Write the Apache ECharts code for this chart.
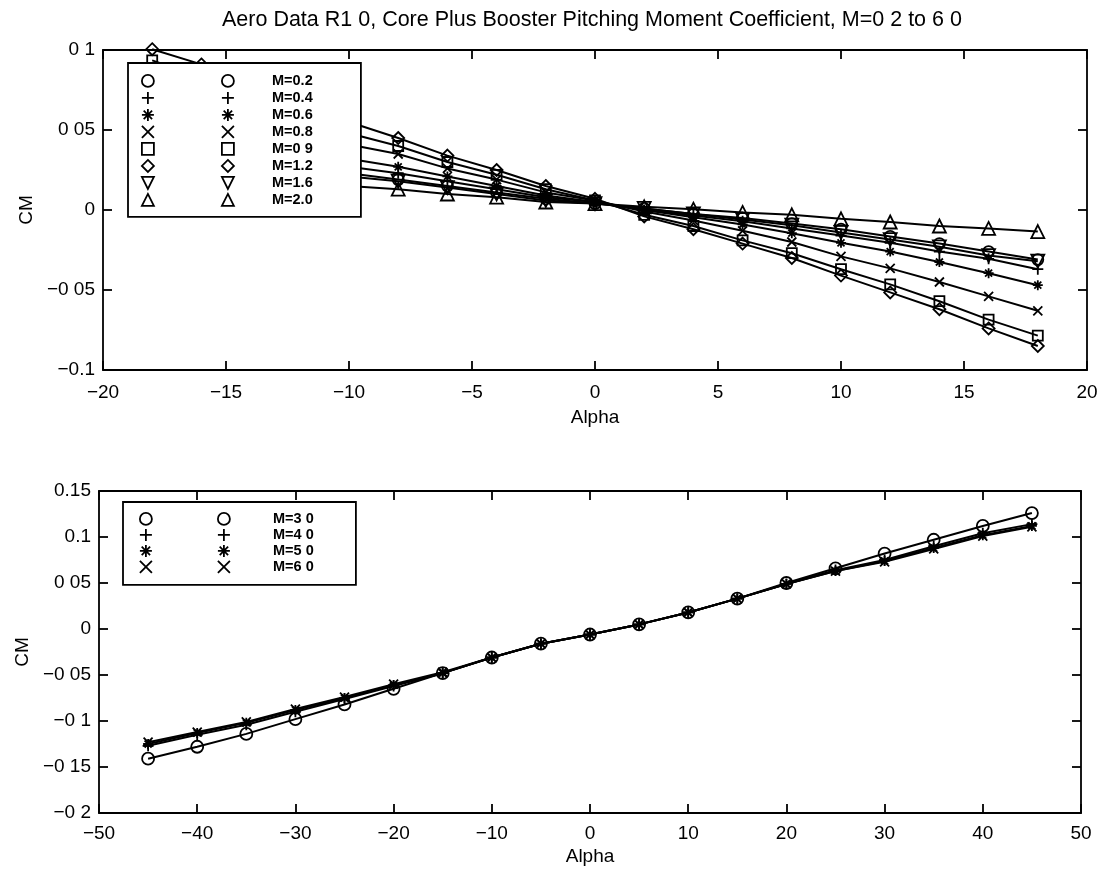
<!DOCTYPE html>
<html>
<head>
<meta charset="utf-8">
<script src="https://cdn.jsdelivr.net/npm/echarts@6/dist/echarts.min.js"></script>
<style>
    html, body { margin: 0; padding: 0; background: #fff; }
    #chart { width: 1108px; height: 871px; }
</style>
</head>
<body>
<div id="chart"></div>
<script>
    // upper panel: M=0.2 .. 2.0
    const alphaTop = [-18, -16, -14, -12, -10, -8, -6, -4, -2, 0, 2, 4, 6, 8, 10, 12, 14, 16, 18];
    const namesTop = ['M=0.2', 'M=0.4', 'M=0.6', 'M=0.8', 'M=0 9', 'M=1.2', 'M=1.6', 'M=2.0'];
    const cmM02 = [0.0445, 0.039, 0.033, 0.028, 0.023, 0.019, 0.015, 0.011, 0.007, 0.004, 0.001, -0.0025, -0.005, -0.0085, -0.012, -0.0165, -0.021, -0.026, -0.031];
    const cmM04 = [0.0525, 0.046, 0.039, 0.033, 0.027, 0.023, 0.018, 0.013, 0.008, 0.005, 0.000, -0.0035, -0.007, -0.0115, -0.016, -0.0205, -0.026, -0.0305, -0.037];
    const cmM06 = [0.0625, 0.055, 0.047, 0.040, 0.032, 0.027, 0.021, 0.015, 0.009, 0.005, 0.000, -0.0045, -0.009, -0.0145, -0.0205, -0.026, -0.0325, -0.0395, -0.047];
    const cmM08 = [0.0805, 0.071, 0.061, 0.051, 0.041, 0.035, 0.026, 0.019, 0.011, 0.006, -0.001, -0.0065, -0.013, -0.020, -0.029, -0.0365, -0.045, -0.054, -0.063];
    const cmM09 = [0.0935, 0.083, 0.071, 0.060, 0.048, 0.040, 0.030, 0.022, 0.013, 0.006, -0.003, -0.010, -0.019, -0.027, -0.037, -0.0465, -0.057, -0.0685, -0.0785];
    const cmM12 = [0.1005, 0.091, 0.079, 0.067, 0.055, 0.045, 0.034, 0.025, 0.015, 0.007, -0.004, -0.012, -0.021, -0.030, -0.041, -0.0515, -0.062, -0.074, -0.085];
    const cmM16 = [0.0405, 0.036, 0.030, 0.026, 0.021, 0.018, 0.014, 0.010, 0.006, 0.004, 0.001, -0.0025, -0.006, -0.0095, -0.014, -0.0185, -0.023, -0.0285, -0.032];
    const cmM20 = [0.0285, 0.025, 0.021, 0.018, 0.015, 0.013, 0.010, 0.008, 0.005, 0.004, 0.002, 0.0005, -0.0015, -0.003, -0.0055, -0.0075, -0.010, -0.0115, -0.0135];

    // lower panel: M=3.0 .. 6.0
    const alphaBot = [-45, -40, -35, -30, -25, -20, -15, -10, -5, 0, 5, 10, 15, 20, 25, 30, 35, 40, 45];
    const namesBot = ['M=3 0', 'M=4 0', 'M=5 0', 'M=6 0'];
    const cmM30 = [-0.141, -0.128, -0.114, -0.098, -0.082, -0.065, -0.048, -0.031, -0.016, -0.006, 0.005, 0.018, 0.033, 0.050, 0.066, 0.082, 0.097, 0.112, 0.126];
    const cmM40 = [-0.127, -0.115, -0.104, -0.090, -0.076, -0.062, -0.048, -0.031, -0.016, -0.006, 0.005, 0.018, 0.033, 0.049, 0.064, 0.075, 0.090, 0.104, 0.114];
    const cmM50 = [-0.125, -0.113, -0.102, -0.088, -0.075, -0.061, -0.048, -0.031, -0.016, -0.006, 0.005, 0.018, 0.033, 0.049, 0.063, 0.074, 0.088, 0.102, 0.112];
    const cmM60 = [-0.123, -0.112, -0.101, -0.087, -0.074, -0.060, -0.047, -0.031, -0.016, -0.006, 0.005, 0.018, 0.033, 0.049, 0.063, 0.073, 0.087, 0.101, 0.111];

    // tick labels (as printed)
    const topXLabels = ['−20', '−15', '−10', '−5', '0', '5', '10', '15', '20'];
    const topYLabels = ['−0.1', '−0 05', '0', '0 05', '0 1'];
    const botXLabels = ['−50', '−40', '−30', '−20', '−10', '0', '10', '20', '30', '40', '50'];
    const botYLabels = ['−0 2', '−0 15', '−0 1', '−0 05', '0', '0 05', '0.1', '0.15'];

    const FONT = 'Liberation Sans, Arial, Helvetica, sans-serif';

    // marker shapes
    const SYM = {
        circle: 'path://M10,5 A5,5 0 1,1 0,5 A5,5 0 1,1 10,5 Z',
        plus: 'path://M5,0 L5,10 M0,5 L10,5',
        star: 'path://M5,0 L5,10 M0,5 L10,5 M1.5,1.5 L8.5,8.5 M8.5,1.5 L1.5,8.5',
        cross: 'path://M0,0 L10,10 M10,0 L0,10',
        square: 'path://M0,0 L10,0 L10,10 L0,10 Z',
        diamond: 'path://M5,0 L10,5 L5,10 L0,5 Z',
        triDown: 'path://M0,0 L10,0 L5,10 Z',
        triUp: 'path://M5,0 L10,10 L0,10 Z'
    };
    const topSyms = [SYM.circle, SYM.plus, SYM.star, SYM.cross, SYM.square, SYM.diamond, SYM.triDown, SYM.triUp];
    const topSizes = [11, 11, 10, 9, 10, 12, 13, 13];
    const botSyms = [SYM.circle, SYM.plus, SYM.star, SYM.cross];
    const botSizes = [12, 11, 10, 9];

    const topData = [cmM02, cmM04, cmM06, cmM08, cmM09, cmM12, cmM16, cmM20];
    const botData = [cmM30, cmM40, cmM50, cmM60];

    function labelFrom(labels, min, step) {
        return function (v) {
            let i = Math.round((v - min) / step);
            return labels[i] !== undefined ? labels[i] : '';
        };
    }

    function axisPair(dim, grid, min, max, step, labels, name, nameGap, labelMargin) {
        let line = {show: true, onZero: false, lineStyle: {color: '#000', width: 1.8}};
        let tick = {show: true, inside: true, length: 9, lineStyle: {color: '#000', width: 1.8}};
        let main = {
            type: 'value', gridIndex: grid, min: min, max: max, interval: step,
            position: dim === 'x' ? 'bottom' : 'left',
            axisLine: line, axisTick: tick, splitLine: {show: false},
            axisLabel: {
                color: '#000', fontSize: 19, fontFamily: FONT, margin: labelMargin,
                formatter: labelFrom(labels, min, step)
            },
            name: name, nameLocation: 'middle', nameGap: nameGap,
            nameTextStyle: {color: '#000', fontSize: 19, fontFamily: FONT}
        };
        let other = {
            type: 'value', gridIndex: grid, min: min, max: max, interval: step,
            position: dim === 'x' ? 'top' : 'right',
            axisLine: line, axisTick: tick, splitLine: {show: false},
            axisLabel: {show: false}
        };
        return [main, other];
    }

    function makeSeries(names, data, alpha, syms, sizes, axisIdx) {
        return names.map(function (n, k) {
            return {
                name: n, type: 'line',
                xAxisIndex: axisIdx, yAxisIndex: axisIdx,
                data: alpha.map(function (a, i) { return [a, data[k][i]]; }),
                symbol: syms[k], symbolSize: sizes[k], symbolKeepAspect: true,
                showSymbol: true, silent: true, clip: false,
                lineStyle: {color: '#000', width: 2},
                itemStyle: {color: 'rgba(0,0,0,0)', borderColor: '#000', borderWidth: 1.8},
                emphasis: {disabled: true}
            };
        });
    }

    // MATLAB style legend: box with symbol column, second symbol column, then labels
    function legendSet(names, syms, box, col2, text, step) {
        let items = names.map(function (n, k) { return {name: n, icon: syms[k]}; });
        let style = {color: 'rgba(0,0,0,0)', borderColor: '#000', borderWidth: 1.8};
        let blank = function () { return ''; };
        return [{
            data: items, orient: 'vertical', align: 'left', selectedMode: false, z: 4,
            left: box.left, top: box.top, padding: box.padding,
            backgroundColor: '#fff', borderColor: '#000', borderWidth: 1.8,
            itemWidth: 12, itemHeight: 12, itemGap: step - 13.8, itemStyle: style,
            formatter: blank, textStyle: {fontSize: 1, lineHeight: 1}
        }, {
            data: items, orient: 'vertical', align: 'left', selectedMode: false, z: 5,
            left: col2.left, top: col2.top, padding: 0,
            itemWidth: 12, itemHeight: 12, itemGap: step - 13.8, itemStyle: style,
            formatter: blank, textStyle: {fontSize: 1, lineHeight: 1}
        }, {
            data: names.map(function (n) { return {name: n, icon: 'none'}; }),
            orient: 'vertical', align: 'left', selectedMode: false, z: 5,
            left: text.left, top: text.top, padding: 0,
            itemWidth: 1, itemHeight: 12, itemGap: step - 15,
            textStyle: {color: '#000', fontSize: 14.5, lineHeight: 12, fontWeight: 'bold', fontFamily: FONT}
        }];
    }

    let myChart = echarts.init(document.getElementById('chart'));

    let xTop = axisPair('x', 0, -20, 20, 5, topXLabels, 'Alpha', 38, 13);
    let yTop = axisPair('y', 0, -0.1, 0.1, 0.05, topYLabels, 'CM', 56, 8);
    let xBot = axisPair('x', 1, -50, 50, 10, botXLabels, 'Alpha', 34, 11);
    let yBot = axisPair('y', 1, -0.2, 0.15, 0.05, botYLabels, 'CM', 56, 8);

    let option = {
        animation: false,
        backgroundColor: '#fff',
        title: {
            text: 'Aero Data R1 0, Core Plus Booster Pitching Moment Coefficient, M=0 2 to 6 0',
            left: 222, top: 9, padding: 0,
            textStyle: {color: '#000', fontSize: 21.5, fontWeight: 'normal', fontFamily: FONT}
        },
        grid: [
            {left: 103, right: 21, top: 50, height: 320},
            {left: 99, right: 27, top: 491, height: 322}
        ],
        xAxis: [xTop[0], xTop[1], xBot[0], xBot[1]],
        yAxis: [yTop[0], yTop[1], yBot[0], yBot[1]],
        legend: [].concat(
            legendSet(namesTop, topSyms,
                {left: 128, top: 63, padding: [11, 202, 10, 13]},
                {left: 221, top: 74}, {left: 266, top: 73}, 17),
            legendSet(namesBot, botSyms,
                {left: 123, top: 502, padding: [10, 199, 11, 16]},
                {left: 217, top: 512}, {left: 267, top: 511}, 16)
        ),
        series: [].concat(
            makeSeries(namesTop, topData, alphaTop, topSyms, topSizes, 0),
            makeSeries(namesBot, botData, alphaBot, botSyms, botSizes, 2)
        )
    };
    myChart.setOption(option);
</script>
</body>
</html>
